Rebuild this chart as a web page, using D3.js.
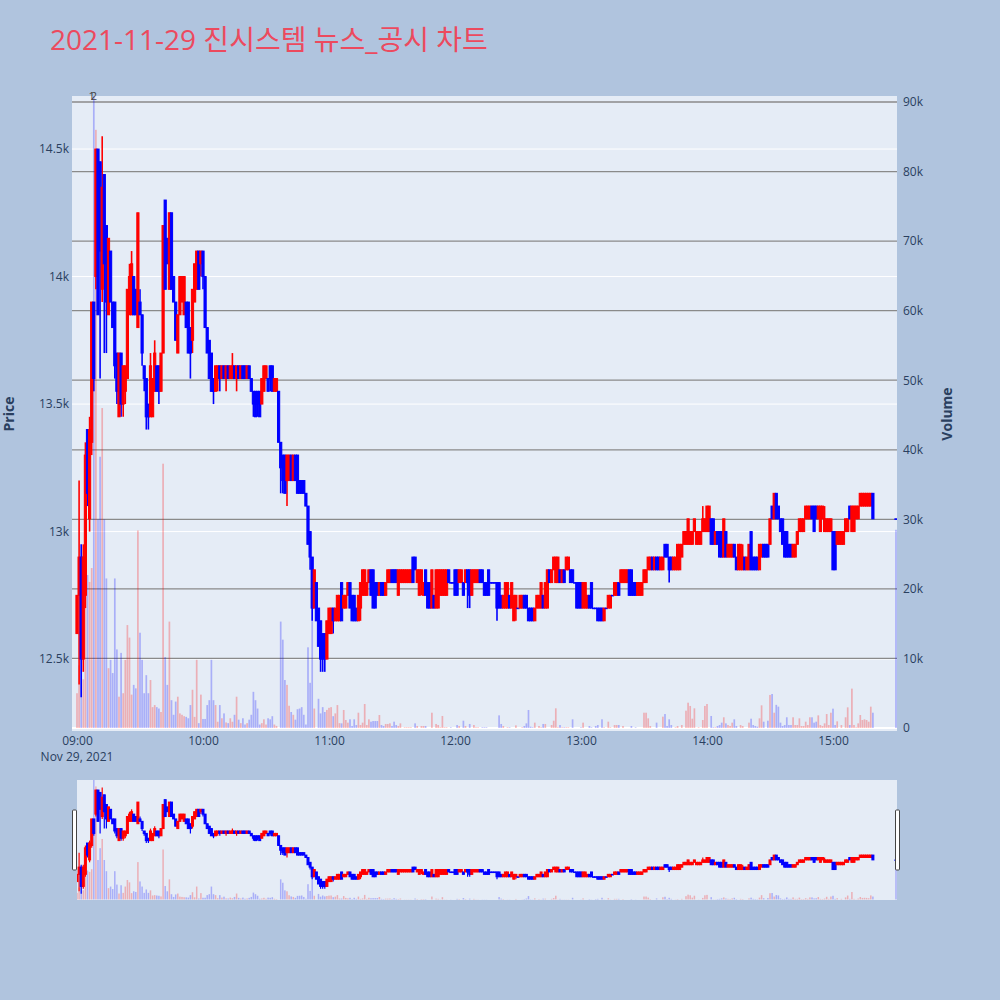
<!DOCTYPE html>
<html><head><meta charset="utf-8">
<script src="https://cdn.jsdelivr.net/npm/d3@7"></script>
<style>body{margin:0;background:#b0c4de;}svg{display:block;}</style>
</head><body>
<svg id="chart" width="1000" height="1000"></svg>
<script>
const chartTitle = "2021-11-29 진시스템 뉴스_공시 차트";
const sessionDate = "2021-11-29";
const firstTime = "09:00";
const closingTime = "15:30";
// one candle per minute from 09:00 : [open, high, low, close]
const candles = [
[12600,12750,12600,12750],[12750,13200,12400,12900],[12900,12950,12350,12500],[12500,12950,12450,12900],[12750,13350,12700,13300],
[13400,13400,13100,13150],[13050,13450,13000,13400],[13350,13900,13300,13900],[13900,13900,13550,13600],[14000,14500,13950,14500],
[14500,14500,13850,13850],[14450,14450,13600,14100],[13950,14550,13900,14350],[14400,14400,13700,14050],[14200,14200,13700,13900],
[13850,14150,13850,14150],[14100,14100,13900,13900],[13900,13900,13800,13800],[13900,13900,13600,13650],[13700,13700,13500,13550],
[13450,13700,13450,13700],[13700,13700,13450,13500],[13500,13650,13450,13650],[13550,13650,13500,13650],[13600,13950,13600,13950],
[13850,14050,13850,14000],[13850,14100,13850,14050],[14000,14000,13850,13850],[13950,13950,13850,13850],[13800,14250,13800,14250],
[13900,13950,13850,13850],[13850,13850,13650,13700],[13650,13650,13550,13600],[13600,13600,13400,13450],[13500,13500,13400,13450],
[13450,13700,13450,13650],[13450,13600,13450,13600],[13550,13750,13550,13700],[13650,13650,13550,13550],[13650,13650,13500,13550],
[13550,13700,13550,13700],[13700,14200,13700,14200],[14300,14300,13950,13950],[14150,14150,14050,14050],[13950,14250,13950,14250],
[14250,14250,13950,13950],[14000,14000,13900,13900],[13900,13900,13750,13750],[13700,13850,13700,13850],[13850,14000,13850,14000],
[13900,14000,13900,14000],[13850,14000,13850,14000],[13900,13900,13800,13800],[13900,13900,13700,13700],[13800,13800,13600,13700],
[13750,13950,13700,13950],[13900,14050,13900,14050],[13950,14100,13950,14100],[14100,14100,13950,13950],[14050,14100,14000,14100],
[14100,14100,13950,14000],[14000,14000,13800,13800],[13800,13800,13700,13700],[13750,13750,13600,13600],[13700,13700,13550,13550],
[13600,13600,13500,13550],[13550,13650,13550,13650],[13600,13650,13550,13650],[13650,13650,13550,13600],[13600,13650,13600,13650],
[13650,13650,13600,13600],[13600,13650,13550,13650],[13650,13650,13600,13600],[13600,13650,13600,13650],[13600,13700,13600,13650],
[13650,13650,13600,13600],[13600,13650,13550,13650],[13650,13650,13600,13600],[13600,13650,13600,13650],[13650,13650,13600,13600],
[13650,13650,13600,13600],[13600,13650,13600,13650],[13650,13650,13600,13600],[13600,13600,13550,13550],[13550,13550,13450,13500],
[13550,13550,13450,13450],[13550,13550,13450,13500],[13550,13550,13450,13450],[13500,13600,13500,13600],[13550,13650,13550,13650],
[13600,13650,13600,13650],[13600,13600,13550,13550],[13650,13650,13550,13600],[13650,13650,13550,13550],[13550,13600,13550,13600],
[13550,13600,13550,13600],[13550,13550,13350,13350],[13350,13350,13150,13250],[13300,13300,13150,13200],[13300,13300,13150,13150],
[13200,13300,13100,13300],[13200,13300,13200,13300],[13300,13300,13200,13200],[13200,13300,13200,13300],[13300,13300,13200,13200],
[13300,13300,13150,13150],[13200,13200,13150,13150],[13200,13200,13150,13150],[13200,13200,13150,13150],[13150,13150,13100,13100],
[13100,13100,12950,12950],[13000,13000,12850,12900],[12900,12900,12650,12700],[12700,12850,12700,12850],[12800,12800,12650,12650],
[12700,12700,12550,12550],[12650,12650,12450,12500],[12600,12600,12450,12500],[12600,12600,12450,12500],[12500,12650,12500,12650],
[12600,12700,12600,12700],[12600,12700,12600,12700],[12700,12700,12600,12650],[12650,12700,12650,12700],[12650,12750,12650,12750],
[12650,12750,12650,12750],[12800,12800,12650,12650],[12700,12750,12700,12750],[12700,12750,12700,12750],[12750,12800,12750,12800],
[12800,12800,12700,12700],[12750,12750,12650,12650],[12750,12750,12650,12650],[12700,12700,12650,12650],[12650,12750,12650,12750],
[12700,12800,12650,12800],[12750,12850,12750,12850],[12750,12850,12750,12850],[12750,12800,12750,12800],[12800,12850,12800,12850],
[12850,12850,12750,12750],[12850,12850,12700,12700],[12800,12800,12700,12700],[12800,12800,12750,12750],[12750,12800,12750,12800],
[12800,12800,12750,12750],[12800,12800,12750,12750],[12750,12800,12750,12800],[12800,12850,12800,12850],[12800,12850,12800,12850],
[12850,12850,12800,12800],[12850,12850,12800,12800],[12850,12850,12800,12800],[12750,12850,12750,12850],[12800,12850,12800,12850],
[12800,12850,12800,12850],[12800,12850,12800,12850],[12800,12850,12800,12850],[12800,12850,12800,12850],[12800,12850,12800,12850],
[12900,12900,12800,12800],[12900,12900,12850,12850],[12800,12850,12800,12850],[12750,12850,12750,12850],[12800,12850,12750,12850],
[12750,12800,12750,12800],[12850,12850,12750,12750],[12800,12800,12700,12700],[12800,12800,12700,12700],[12700,12850,12700,12850],
[12750,12750,12700,12700],[12700,12850,12700,12850],[12700,12850,12700,12850],[12750,12850,12750,12850],[12750,12850,12750,12850],
[12750,12850,12750,12850],[12750,12850,12750,12850],[12850,12850,12800,12800],[12800,12800,12800,12800],[12800,12800,12800,12800],
[12850,12850,12750,12750],[12850,12850,12750,12750],[12800,12850,12800,12850],[12800,12850,12800,12850],[12800,12800,12750,12750],
[12800,12850,12800,12850],[12850,12850,12700,12800],[12850,12850,12700,12750],[12750,12850,12750,12850],[12800,12850,12800,12850],
[12800,12850,12800,12850],[12800,12850,12800,12850],[12850,12850,12800,12800],[12850,12850,12800,12800],[12800,12800,12750,12750],
[12800,12800,12750,12750],[12850,12850,12750,12750],[12800,12800,12800,12800],[12800,12800,12800,12800],[12800,12800,12800,12800],
[12800,12800,12650,12700],[12800,12800,12700,12700],[12750,12750,12700,12700],[12700,12750,12700,12750],[12700,12800,12700,12800],
[12700,12800,12700,12800],[12750,12750,12700,12700],[12700,12800,12700,12800],[12650,12750,12650,12750],[12700,12750,12650,12750],
[12700,12700,12700,12700],[12700,12750,12700,12750],[12700,12750,12700,12750],[12750,12750,12700,12700],[12750,12750,12700,12700],
[12700,12700,12650,12650],[12700,12700,12650,12650],[12700,12700,12650,12650],[12650,12700,12650,12700],[12700,12750,12700,12750],
[12700,12750,12700,12750],[12700,12800,12700,12800],[12750,12750,12700,12700],[12700,12800,12700,12800],[12700,12850,12700,12850],
[12850,12850,12800,12800],[12800,12850,12800,12850],[12850,12900,12850,12900],[12800,12900,12800,12900],[12800,12900,12800,12900],
[12850,12850,12800,12800],[12800,12850,12800,12850],[12850,12850,12800,12800],[12850,12900,12850,12900],[12850,12900,12850,12900],
[12850,12850,12800,12800],[12850,12850,12800,12800],[12800,12800,12800,12800],[12800,12800,12700,12700],[12800,12800,12700,12700],
[12800,12800,12700,12700],[12700,12800,12700,12800],[12700,12800,12700,12800],[12700,12750,12700,12750],[12750,12750,12700,12700],
[12800,12800,12700,12700],[12700,12700,12700,12700],[12700,12700,12700,12700],[12700,12700,12650,12650],[12700,12700,12650,12650],
[12700,12700,12650,12650],[12650,12700,12650,12700],[12700,12700,12700,12700],[12700,12750,12700,12750],[12700,12750,12700,12750],
[12750,12750,12750,12750],[12750,12800,12750,12800],[12750,12800,12750,12800],[12800,12800,12750,12750],[12800,12850,12800,12850],
[12800,12850,12800,12850],[12800,12850,12800,12850],[12800,12850,12800,12850],[12850,12850,12750,12750],[12850,12850,12750,12750],
[12800,12800,12750,12750],[12800,12800,12750,12750],[12750,12800,12750,12800],[12750,12800,12750,12800],[12750,12800,12750,12800],
[12800,12850,12800,12850],[12800,12850,12800,12850],[12850,12900,12850,12900],[12850,12900,12850,12900],[12900,12900,12850,12850],
[12850,12900,12850,12900],[12900,12900,12850,12850],[12900,12900,12850,12850],[12850,12900,12850,12900],[12850,12900,12850,12900],
[12950,12950,12900,12900],[12950,12950,12900,12900],[12900,12900,12800,12850],[12900,12900,12850,12850],[12850,12900,12850,12900],
[12850,12900,12850,12900],[12850,12950,12850,12950],[12850,12950,12850,12950],[12900,12950,12900,12950],[12950,13000,12950,13000],
[12950,13000,12950,13000],[12950,13050,12950,13050],[12950,13000,12950,13000],[12950,13000,12950,13000],[13000,13050,13000,13050],
[12950,13000,12950,13000],[12950,13000,12950,13000],[12950,13000,12950,13000],[13000,13100,13000,13050],[13000,13050,13000,13050],
[13000,13100,13000,13100],[13000,13100,13000,13100],[13050,13050,12950,12950],[13050,13050,12950,12950],[12950,13000,12950,13000],
[13000,13000,12950,12950],[13000,13000,12900,12900],[13000,13000,12900,12900],[12900,13050,12900,13050],[13000,13000,12900,12900],
[12900,12950,12900,12950],[12900,12950,12900,12950],[12900,12950,12900,12950],[12950,12950,12900,12900],[12900,12900,12850,12850],
[12850,12950,12850,12950],[12850,12950,12850,12950],[12850,12950,12850,12900],[12900,12900,12850,12850],[12850,12900,12850,12900],
[12850,12950,12850,12950],[13000,13000,12850,12850],[12900,12900,12850,12850],[12900,12900,12850,12850],[12900,12900,12850,12850],
[12850,12950,12850,12950],[12900,12950,12900,12950],[12950,12950,12900,12900],[12950,12950,12900,12900],[12950,12950,12900,12900],
[12950,13050,12950,13050],[13100,13100,13050,13050],[13050,13150,13050,13150],[13150,13150,13050,13050],[13100,13100,13050,13050],
[13050,13050,13000,13000],[13050,13050,12950,12950],[13000,13000,12900,12900],[13000,13000,12900,12900],[12950,12950,12900,12900],
[12950,12950,12900,12900],[12900,12950,12900,12950],[12900,12950,12900,12950],[12950,13000,12950,13000],[13000,13050,13000,13050],
[13000,13050,13000,13050],[13000,13050,13000,13050],[13050,13100,13050,13100],[13050,13100,13050,13100],[13050,13100,13050,13100],
[13100,13100,13050,13050],[13100,13100,13000,13000],[13100,13100,13050,13050],[13050,13100,13050,13100],[13000,13100,13000,13100],
[13050,13100,13050,13100],[13000,13100,13000,13050],[13000,13050,13000,13050],[13000,13050,13000,13050],[13000,13050,13000,13050],
[13000,13000,12850,12850],[13000,13000,12850,12850],[12950,13000,12950,13000],[12950,13000,12950,13000],[12950,13000,12950,13000],
[12950,13000,12950,13000],[13000,13050,13000,13050],[13000,13050,13000,13050],[13100,13100,13050,13050],[13000,13100,13000,13100],
[13000,13100,13000,13100],[13050,13100,13050,13100],[13050,13100,13050,13100],[13100,13150,13100,13150],[13100,13150,13100,13150],
[13100,13150,13100,13150],[13100,13150,13100,13150],[13100,13150,13100,13150],[13100,13150,13100,13150],[13150,13150,13050,13050]
];
const closingCandle = [13050,13050,13050,13050];
const volumes = [
5000,9000,14000,7000,19000,22000,21000,23000,95000,86000,
30000,39000,46000,30000,21500,8600,9800,7900,21500,11300,
4500,10800,5000,9800,14800,13000,4800,6200,5700,28400,
13700,9800,5000,7600,5000,6900,3000,3300,3000,2800,
2300,38000,10200,6200,15300,4000,1900,3800,4500,2100,
1900,1700,1600,1400,3300,5500,1600,9800,700,4800,
1300,1300,3300,4000,9800,4000,3300,900,3300,1400,
2100,800,700,1400,900,1900,4500,1200,700,1400,
500,700,1200,1900,5200,4000,2800,500,700,1250,
500,1400,1250,1700,500,300,0,15300,12700,6900,
6200,3200,2300,1900,1200,2700,2800,3000,1900,500,
11600,6500,23700,2800,0,4200,2100,3000,2300,2600,
2900,3000,1700,2100,3300,700,670,2590,1150,770,
1250,290,1250,430,2200,430,770,3450,430,1250,
910,1000,1000,1000,1870,430,290,580,580,670,
290,910,430,290,670,0,100,100,100,100,
0,670,290,0,290,290,290,0,0,2200,
0,580,430,100,1730,100,100,0,100,0,
0,430,290,0,1050,290,0,580,0,430,
100,100,0,100,100,100,0,0,0,0,
0,1820,580,290,0,100,100,0,0,380,
0,0,100,290,670,2590,190,100,770,0,
290,100,580,580,0,0,430,1050,2830,100,
430,100,100,100,100,0,1250,0,0,0,
100,770,0,0,290,100,0,290,430,0,
1250,100,0,910,100,0,430,430,430,0,
290,0,0,0,290,0,100,0,0,0,
2200,2200,1390,290,0,0,770,0,0,1630,
2010,290,1250,430,0,100,290,0,430,0,
2490,3640,3170,1340,2830,0,100,0,1150,3170,
3450,0,1730,100,100,290,430,770,1540,670,
430,290,770,1250,290,0,430,290,0,0,
770,1340,430,290,190,1390,3260,910,0,1050,
4750,4890,2200,3330,3070,770,290,430,1540,430,
430,1540,430,430,1390,290,290,910,430,1540,
1540,770,910,1820,430,290,670,2010,430,2200,
2780,430,960,0,430,0,1540,2970,430,5660,
430,100,670,1870,1150,1250,1150,910,3070,2200
];
const closingVolume = 28500;
const priceTicks = [12500, 13000, 13500, 14000, 14500];
const volumeTicks = [0, 10000, 20000, 30000, 40000, 50000, 60000, 70000, 80000, 90000];
const timeTicks = ["09:00", "10:00", "11:00", "12:00", "13:00", "14:00", "15:00"];
const dateTickLabel = "Nov 29, 2021";
const newsMarkers = [{time: "09:07", label: "1"}, {time: "09:08", label: "2"}];

const parseT = d3.timeParse("%Y-%m-%d %H:%M");
const t0 = parseT(sessionDate + " " + firstTime);
const MIN = 60000;
const rows = candles.map((c, i) => ({t: new Date(+t0 + i * MIN), o: c[0], h: c[1], l: c[2], c: c[3], v: volumes[i]}));
rows.push({t: parseT(sessionDate + " " + closingTime), o: closingCandle[0], h: closingCandle[1], l: closingCandle[2], c: closingCandle[3], v: closingVolume});

const INC = "#ff0000", DEC = "#0000ff";
const col = d => d.c > d.o ? INC : DEC;
const FONT = "'Open Sans', 'Noto Sans CJK KR', sans-serif";
const TXT = "#2a3f5f";

const L = 72, R = 897, T = 96, B = 731;
const x = d3.scaleTime().domain([new Date(+t0 - 2.38 * MIN), new Date(+t0 + 390.48 * MIN)]).range([L, R]);
const yP = d3.scaleLinear().domain([12218, 14708]).range([B, T]);
const yV = d3.scaleLinear().domain([-431, 90863]).range([B, T]);

const svg = d3.select("#chart");
svg.append("rect").attr("width", 1000).attr("height", 1000).attr("fill", "#b0c4de");
svg.append("text").attr("x", 50).attr("y", 50).attr("font-family", FONT).attr("font-size", 28)
  .attr("fill", "#ec4a5e").text(chartTitle);

svg.append("rect").attr("x", L).attr("y", T).attr("width", R - L).attr("height", B - T).attr("fill", "#e5ecf6");
svg.append("defs").append("clipPath").attr("id", "clipMain").append("rect")
  .attr("x", L).attr("y", T).attr("width", R - L).attr("height", B - T);

// grids
svg.append("g").selectAll("line").data(priceTicks).join("line")
  .attr("x1", L).attr("x2", R).attr("y1", d => yP(d)).attr("y2", d => yP(d))
  .attr("stroke", "#ffffff").attr("stroke-width", 1);
svg.append("g").selectAll("line").data(volumeTicks.filter(v => v > 0)).join("line")
  .attr("x1", L).attr("x2", R).attr("y1", d => yV(d)).attr("y2", d => yV(d))
  .attr("stroke", "#8a8a8a").attr("stroke-width", 1.3);
svg.append("line").attr("x1", L).attr("x2", R).attr("y1", yV(0)).attr("y2", yV(0))
  .attr("stroke", "#ffffff").attr("stroke-width", 2);

function drawChart(g, xs, yp, yv, bodyW, wickW, barW) {
  g.append("g").selectAll("rect").data(rows.filter(d => d.v > 0)).join("rect")
    .attr("x", d => xs(d.t) - barW / 2).attr("width", barW)
    .attr("y", d => yv(d.v)).attr("height", d => Math.max(0, yv(0) - yv(d.v)))
    .attr("fill", col).attr("fill-opacity", 0.26);
  const cg = g.append("g");
  cg.selectAll("line").data(rows).join("line")
    .attr("x1", d => xs(d.t)).attr("x2", d => xs(d.t))
    .attr("y1", d => yp(d.h)).attr("y2", d => yp(d.l))
    .attr("stroke", col).attr("stroke-width", wickW);
  cg.selectAll("rect").data(rows).join("rect")
    .attr("x", d => xs(d.t) - bodyW / 2).attr("width", bodyW)
    .attr("y", d => yp(Math.max(d.o, d.c)))
    .attr("height", d => Math.max(0.6, yp(Math.min(d.o, d.c)) - yp(Math.max(d.o, d.c))))
    .attr("fill", col).attr("stroke", col).attr("stroke-width", 1);
}
drawChart(svg.append("g").attr("clip-path", "url(#clipMain)"), x, yP, yV, 2.2, 1.6, 1.7);

// news markers
svg.append("g").selectAll("text").data(newsMarkers).join("text")
  .attr("x", d => x(parseT(sessionDate + " " + d.time))).attr("y", T + 4)
  .attr("text-anchor", "middle").attr("font-family", FONT).attr("font-size", 11).attr("fill", "#444")
  .text(d => d.label);

// axes
function styleAxis(g) {
  g.select(".domain").remove();
  g.selectAll(".tick line").remove();
  g.selectAll("text").attr("font-family", FONT).attr("font-size", 12).attr("fill", TXT);
}
svg.append("g").attr("transform", `translate(${L},0)`)
  .call(d3.axisLeft(yP).tickValues(priceTicks).tickFormat(d3.format("~s")).tickSize(0).tickPadding(3)).call(styleAxis);
svg.append("g").attr("transform", `translate(${R},0)`)
  .call(d3.axisRight(yV).tickValues(volumeTicks).tickFormat(d3.format("~s")).tickSize(0).tickPadding(6)).call(styleAxis);
const parseHM = t => parseT(sessionDate + " " + t);
svg.append("g").attr("transform", `translate(0,${B})`)
  .call(d3.axisBottom(x).tickValues(timeTicks.map(parseHM)).tickFormat(d3.timeFormat("%H:%M")).tickSize(0).tickPadding(5)).call(styleAxis);
svg.append("text").attr("x", x(parseHM(timeTicks[0]))).attr("y", B + 30).attr("text-anchor", "middle")
  .attr("font-family", FONT).attr("font-size", 12).attr("fill", TXT).text(dateTickLabel);

svg.append("text").attr("transform", "translate(14,414) rotate(-90)").attr("text-anchor", "middle")
  .attr("font-family", FONT).attr("font-size", 14).attr("font-weight", "bold").attr("fill", TXT).text("Price");
svg.append("text").attr("transform", "translate(952,414) rotate(-90)").attr("text-anchor", "middle")
  .attr("font-family", FONT).attr("font-size", 14).attr("font-weight", "bold").attr("fill", TXT).text("Volume");

// range slider
const ST = 780, SB = 900;
const yPs = d3.scaleLinear().domain(yP.domain()).range([SB, ST]);
const yVs = d3.scaleLinear().domain(yV.domain()).range([SB, ST]);
svg.append("rect").attr("x", L + 5).attr("y", ST).attr("width", R - L - 5).attr("height", SB - ST).attr("fill", "#e5ecf6");
svg.append("defs").append("clipPath").attr("id", "clipSlider").append("rect")
  .attr("x", L + 5).attr("y", ST).attr("width", R - L - 5).attr("height", SB - ST);
drawChart(svg.append("g").attr("clip-path", "url(#clipSlider)"), x, yPs, yVs, 2.0, 1.2, 1.5);
[L + 3, R + 1].forEach(hx => {
  svg.append("rect").attr("x", hx - 2.5).attr("y", 810).attr("width", 4).attr("height", 60)
    .attr("rx", 1).attr("fill", "#ffffff").attr("stroke", "#444").attr("stroke-width", 1);
});
</script>
</body></html>
